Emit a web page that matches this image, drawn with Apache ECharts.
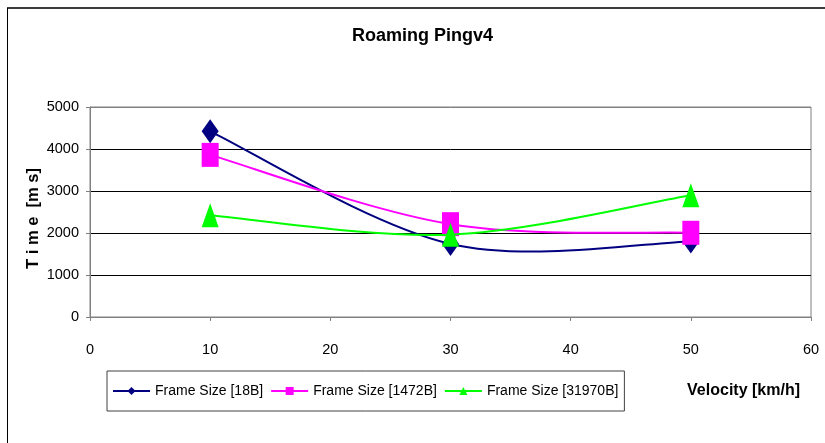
<!DOCTYPE html>
<html>
<head>
<meta charset="utf-8">
<script src="https://cdn.jsdelivr.net/npm/echarts@6/dist/echarts.min.js"></script>
<style>
  html, body { margin: 0; padding: 0; background: #fff; }
  #chart { width: 825px; height: 443px; }
</style>
</head>
<body>
<div id="chart"></div>
<script>
// Velocity (km/h) at which each roaming ping run was measured
const velocities = [10, 30, 50];

// Mean ping time (ms) per frame size
const frame18 = [4420, 1740, 1800];
const frame1472 = [3860, 2210, 2005];
const frame31970 = [2420, 1960, 2900];

const seriesNames = ['Frame Size [18B]', 'Frame Size [1472B]', 'Frame Size [31970B]'];
const seriesColors = ['#000080', '#FF00FF', '#00FF00'];
const seriesSymbols = ['diamond', 'rect', 'triangle'];
const seriesValues = [frame18, frame1472, frame31970];

const FONT = "'Liberation Sans', Arial, sans-serif";

// Spreadsheet-style smoothing: cubic Bezier through every point with
// Catmull-Rom tangents (control arms = 1/6 of the neighbour chord).
function smoothPath(pts) {
  let d = 'M' + pts[0][0] + ' ' + pts[0][1];
  for (let i = 0; i < pts.length - 1; i++) {
    const p0 = pts[i - 1] || pts[i];
    const p1 = pts[i];
    const p2 = pts[i + 1];
    const p3 = pts[i + 2] || pts[i + 1];
    const c1x = p1[0] + (p2[0] - p0[0]) / 6, c1y = p1[1] + (p2[1] - p0[1]) / 6;
    const c2x = p2[0] - (p3[0] - p1[0]) / 6, c2y = p2[1] - (p3[1] - p1[1]) / 6;
    d += ' C' + c1x + ' ' + c1y + ' ' + c2x + ' ' + c2y + ' ' + p2[0] + ' ' + p2[1];
  }
  return d;
}

const chart = echarts.init(document.getElementById('chart'), null, { renderer: 'canvas' });

// Smoothed curves, drawn through the axis scales with api.coord
const curveSeries = seriesValues.map((vals, i) => ({
  id: 'curve' + i,
  type: 'custom',
  coordinateSystem: 'cartesian2d',
  data: velocities.map((v, j) => [v, vals[j]]),
  encode: { x: 0, y: 1 },
  silent: true,
  z: 2 + i * 2,
  renderItem: function (params, api) {
    if (params.dataIndex !== 0) return null;
    const pts = velocities.map((v, j) => api.coord([v, vals[j]]));
    return {
      type: 'path',
      shape: { pathData: smoothPath(pts) },
      style: { fill: 'none', stroke: seriesColors[i], lineWidth: 2 }
    };
  }
}));

// Markers (and legend entries) for each frame size
const markerSeries = seriesValues.map((vals, i) => ({
  name: seriesNames[i],
  type: 'line',
  data: velocities.map((v, j) => [v, vals[j]]),
  symbol: seriesSymbols[i],
  symbolSize: [17, 24],
  showAllSymbol: true,
  itemStyle: { color: seriesColors[i] },
  lineStyle: { color: seriesColors[i], width: 2, opacity: 0 },
  emphasis: { disabled: true },
  z: 3 + i * 2
}));

const axisLabelFormatter = v => String(v);

chart.setOption({
  animation: false,
  backgroundColor: '#ffffff',
  textStyle: { fontFamily: FONT },
  title: {
    text: 'Roaming Pingv4',
    left: 352,
    top: 27,
    padding: 0,
    textStyle: { fontFamily: FONT, fontWeight: 'bold', fontSize: 18, color: '#000' }
  },
  legend: {
    left: 107,
    top: 371,
    orient: 'horizontal',
    padding: [13, 6, 13, 5],
    itemGap: 7,
    itemWidth: 37,
    itemHeight: 10,
    borderColor: '#404040',
    borderWidth: 1,
    textStyle: { fontFamily: FONT, fontSize: 14, color: '#000' },
    data: seriesNames.map((n, i) => ({
      name: n,
      lineStyle: { color: seriesColors[i], width: 2, opacity: 1 }
    }))
  },
  grid: {
    left: 90,
    right: 14,
    top: 107,
    bottom: 126,
    show: true,
    borderColor: '#808080',
    borderWidth: 1,
    containLabel: false
  },
  xAxis: {
    type: 'value',
    min: 0,
    max: 60,
    interval: 10,
    name: 'Velocity [km/h]',
    nameLocation: 'end',
    nameGap: -11,
    nameMoveOverlap: false,
    nameTextStyle: {
      fontFamily: FONT, fontWeight: 'bold', fontSize: 16, color: '#000',
      align: 'right', verticalAlign: 'top', padding: [66, 0, 0, 0]
    },
    axisLine: { show: true, onZero: false, lineStyle: { color: '#808080', width: 1 } },
    axisTick: { show: true, length: 4, inside: false, lineStyle: { color: '#808080' } },
    axisLabel: { fontFamily: FONT, fontSize: 14.5, color: '#000', margin: 25, formatter: axisLabelFormatter },
    splitLine: { show: false }
  },
  yAxis: {
    type: 'value',
    min: 0,
    max: 5000,
    interval: 1000,
    name: 'T i m e  [m s]',
    nameLocation: 'middle',
    nameGap: 48,
    nameMoveOverlap: false,
    nameTextStyle: { fontFamily: FONT, fontWeight: 'bold', fontSize: 16.5, color: '#000', padding: [0, 13, 0, 0] },
    axisLine: { show: true, lineStyle: { color: '#808080', width: 1 } },
    axisTick: { show: true, length: 4, inside: false, lineStyle: { color: '#808080' } },
    axisLabel: { fontFamily: FONT, fontSize: 14.5, color: '#000', margin: 11, formatter: axisLabelFormatter },
    splitLine: {
      show: true,
      lineStyle: { color: ['#808080', '#000', '#000', '#000', '#000', '#808080'], width: 1 }
    }
  },
  graphic: [
    { type: 'line', shape: { x1: 7, y1: 8, x2: 825, y2: 8 }, style: { stroke: '#3c3c3c', lineWidth: 2 }, silent: true },
    { type: 'line', shape: { x1: 7.5, y1: 8, x2: 7.5, y2: 443 }, style: { stroke: '#000', lineWidth: 1 }, silent: true }
  ],
  series: curveSeries.concat(markerSeries)
});
</script>
</body>
</html>
